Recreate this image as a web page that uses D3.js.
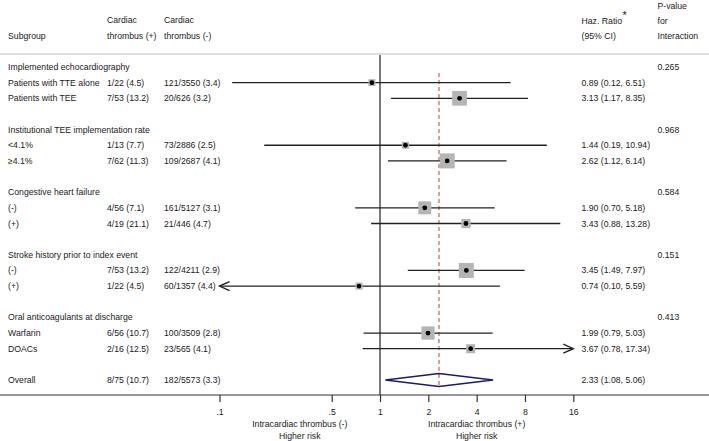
<!DOCTYPE html>
<html><head><meta charset="utf-8">
<script src="https://cdn.jsdelivr.net/npm/d3@7"></script>
<style>
html,body{margin:0;padding:0;background:#fff;}
text{font-family:"Liberation Sans",Arial,sans-serif;font-size:8.7px;fill:#222;}
</style></head>
<body><svg id="c" width="709" height="441"></svg>
<script>
// ---- data ----
const rowLabels = ["Implemented echocardiography","Patients with TTE alone","Patients with TEE","",
  "Institutional TEE implementation rate","<4.1%","≥4.1%","",
  "Congestive heart failure","(-)","(+)","",
  "Stroke history prior to index event","(-)","(+)","",
  "Oral anticoagulants at discharge","Warfarin","DOACs","",
  "Overall"];
const rowType = ["h","e","e","","h","e","e","","h","e","e","","h","e","e","","h","e","e","","o"];
const thrombusPos = ["","1/22 (4.5)","7/53 (13.2)","","","1/13 (7.7)","7/62 (11.3)","","","4/56 (7.1)","4/19 (21.1)","","","7/53 (13.2)","1/22 (4.5)","","","6/56 (10.7)","2/16 (12.5)","","8/75 (10.7)"];
const thrombusNeg = ["","121/3550 (3.4)","20/626 (3.2)","","","73/2886 (2.5)","109/2687 (4.1)","","","161/5127 (3.1)","21/446 (4.7)","","","122/4211 (2.9)","60/1357 (4.4)","","","100/3509 (2.8)","23/565 (4.1)","","182/5573 (3.3)"];
const hr = [null,0.89,3.13,null,null,1.44,2.62,null,null,1.90,3.43,null,null,3.45,0.74,null,null,1.99,3.67,null,2.33];
const ciLow = [null,0.12,1.17,null,null,0.19,1.12,null,null,0.70,0.88,null,null,1.49,0.10,null,null,0.79,0.78,null,1.08];
const ciHigh = [null,6.51,8.35,null,null,10.94,6.14,null,null,5.18,13.28,null,null,7.97,5.59,null,null,5.03,17.34,null,5.06];
const hrText = ["","0.89 (0.12, 6.51)","3.13 (1.17, 8.35)","","","1.44 (0.19, 10.94)","2.62 (1.12, 6.14)","","","1.90 (0.70, 5.18)","3.43 (0.88, 13.28)","","","3.45 (1.49, 7.97)","0.74 (0.10, 5.59)","","","1.99 (0.79, 5.03)","3.67 (0.78, 17.34)","","2.33 (1.08, 5.06)"];
const pInteraction = ["0.265","","","","0.968","","","","0.584","","","","0.151","","","","0.413","","","",""];
const weights = [0,22,96,0,0,22,100,0,0,75,38,0,0,100,22,0,0,78,36,0,0];
const tickValues = [0.1,0.5,1,2,4,8,16];
const tickLabels = [".1",".5","1","2","4","8","16"];
const overallHR = 2.33;

// ---- layout ----
const svg = d3.select("#c");
const x = d3.scaleLog().domain([0.1,16]).range([219.5,573.3]);
const y = d3.scaleLinear().domain([0,20]).range([67,380]);
const box = d3.scaleSqrt().domain([0,100]).range([0,15]);
const colX = {sub:8, pos:107, neg:164, hr:581.5, p:657.5};
const axisY = 395;

// header
const hdr = svg.append("g");
function ht(t,xx,yy){hdr.append("text").attr("x",xx).attr("y",yy).attr("dy","0.35em").text(t);}
ht("Subgroup",colX.sub,36);
ht("Cardiac",colX.pos,20); ht("thrombus (+)",colX.pos,36);
ht("Cardiac",colX.neg,20); ht("thrombus (-)",colX.neg,36);
ht("Haz. Ratio",colX.hr,21); ht("(95% CI)",colX.hr,36);
hdr.append("text").attr("x",colX.hr+41).attr("y",15).attr("dy","0.35em").style("font-size","11px").text("*");
ht("P-value",colX.p,6); ht("for",colX.p,21); ht("Interaction",colX.p,36);
svg.append("line").attr("x1",0).attr("x2",709).attr("y1",54).attr("y2",54).attr("stroke","#d4d4d4").attr("stroke-width",1.5);

// reference lines
svg.append("line").attr("x1",x(1)).attr("x2",x(1)).attr("y1",55).attr("y2",axisY).attr("stroke","#222").attr("stroke-width",1.2);
svg.append("line").attr("x1",x(overallHR)).attr("x2",x(overallHR)).attr("y1",73).attr("y2",388)
  .attr("stroke","#b54040").attr("stroke-width",1).attr("stroke-dasharray","4,3");

// text columns
const rows = d3.range(rowLabels.length);
const tg = svg.append("g");
rows.forEach(i=>{
  const yy = y(i);
  const t=(s,xx)=>{ if(s) tg.append("text").attr("x",xx).attr("y",yy).attr("dy","0.35em").text(s); };
  t(rowLabels[i],colX.sub);
  t(thrombusPos[i],colX.pos);
  t(thrombusNeg[i],colX.neg);
  t(hrText[i],colX.hr);
  t(pInteraction[i],colX.p);
});

// estimates
const eg = svg.append("g");
const [dmin,dmax] = x.domain();
rows.filter(i=>rowType[i]==="e").forEach(i=>{
  const yy=y(i);
  const lo=Math.max(ciLow[i],dmin), hi=Math.min(ciHigh[i],dmax);
  eg.append("line").attr("x1",x(lo)).attr("x2",x(hi)).attr("y1",yy).attr("y2",yy).attr("stroke","#222").attr("stroke-width",1.3);
  if(ciLow[i]<=dmin){
    const ax=x(lo);
    eg.append("path").attr("d",`M${ax+10},${yy-4.5}L${ax},${yy}L${ax+10},${yy+4.5}`).attr("fill","none").attr("stroke","#222").attr("stroke-width",1.4);
  }
  if(ciHigh[i]>dmax){
    const ax=x(hi);
    eg.append("path").attr("d",`M${ax-10},${yy-4.5}L${ax},${yy}L${ax-10},${yy+4.5}`).attr("fill","none").attr("stroke","#222").attr("stroke-width",1.4);
  }
  const s=box(weights[i]);
  eg.append("rect").attr("x",x(hr[i])-s/2).attr("y",yy-s/2).attr("width",s).attr("height",s).attr("fill","#b5b5b5");
  eg.append("circle").attr("cx",x(hr[i])).attr("cy",yy).attr("r",2.4).attr("fill","#000");
});

// overall diamond
rows.filter(i=>rowType[i]==="o").forEach(i=>{
  const yy=y(i);
  eg.append("path").attr("d",`M${x(ciLow[i])},${yy}L${x(hr[i])},${yy-6.5}L${x(ciHigh[i])},${yy}L${x(hr[i])},${yy+6.5}Z`)
    .attr("fill","none").attr("stroke","#1a1a70").attr("stroke-width",1.4);
});

// axis
svg.append("line").attr("x1",0).attr("x2",709).attr("y1",axisY).attr("y2",axisY).attr("stroke","#333").attr("stroke-width",1.2);
const ax = svg.append("g").attr("transform",`translate(0,${axisY})`)
  .call(d3.axisBottom(x).tickValues(tickValues).tickSize(7).tickPadding(6.5).tickFormat((d,i)=>tickLabels[i]));
ax.select(".domain").remove();
ax.selectAll(".tick line").attr("stroke","#333").attr("stroke-width",1.2);
ax.selectAll("text").attr("font-family",null).attr("font-size",null).style("fill","#222");

const bl = svg.append("g").attr("text-anchor","middle");
const leftMid = (x(0.1)+x(1))/2, rightMid=(x(1)+x(16))/2;
bl.append("text").attr("x",leftMid).attr("y",424).attr("dy","0.35em").text("Intracardiac thrombus (-)");
bl.append("text").attr("x",leftMid).attr("y",436).attr("dy","0.35em").text("Higher risk");
bl.append("text").attr("x",rightMid).attr("y",424).attr("dy","0.35em").text("Intracardiac thrombus (+)");
bl.append("text").attr("x",rightMid).attr("y",436).attr("dy","0.35em").text("Higher risk");
</script></body></html>
